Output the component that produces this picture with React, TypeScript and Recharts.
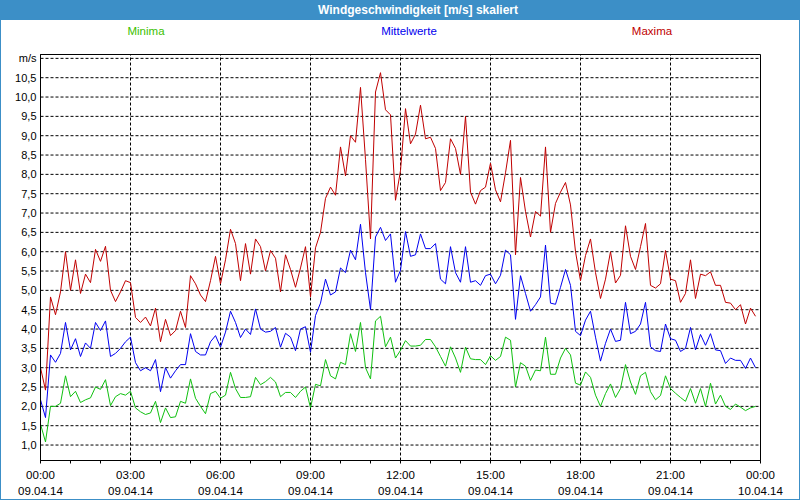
import { LineChart, Line, XAxis, YAxis, CartesianGrid, ReferenceLine, ReferenceArea, Legend } from 'recharts';

// wind speed [m/s], one value every 10 minutes, 09.04.14 00:00 .. 23:50
const maxima = [
  3.0, 2.42, 4.83, 4.37, 4.96, 6.0, 5.0, 5.79, 4.92, 5.42, 5.2, 6.06, 5.75, 6.14, 5.0, 4.71, 4.96, 5.25, 5.2,
  4.3, 4.17, 4.31, 4.08, 4.54, 3.67, 4.25, 3.83, 3.96, 4.46, 4.04, 5.38, 5.17, 4.88, 4.71, 5.25, 5.88, 5.17,
  5.79, 6.58, 6.21, 5.25, 6.21, 5.42, 6.33, 6.13, 5.5, 6.03, 5.83, 4.96, 5.92, 5.54, 5.08, 5.58, 6.13, 4.83,
  6.1, 6.5, 7.38, 7.67, 7.46, 8.71, 7.96, 9.0, 8.83, 10.25, 8.38, 6.33, 10.13, 10.63, 9.67, 9.54, 7.33, 8.1,
  9.7, 8.79, 9.04, 9.79, 8.92, 8.96, 8.67, 7.58, 7.79, 8.92, 8.67, 8.0, 9.5, 7.54, 7.23, 7.58, 7.67, 8.29,
  7.6, 7.29, 8.04, 8.88, 5.92, 7.92, 7.04, 6.38, 7.04, 6.92, 8.71, 6.5, 7.25, 7.54, 7.79, 7.21, 6.0, 5.25,
  5.9, 6.33, 5.46, 4.79, 5.29, 6.0, 5.19, 5.39, 6.67, 5.88, 5.54, 6.13, 6.73, 5.13, 5.06, 5.17, 6.03, 5.29,
  5.25, 4.69, 4.92, 5.79, 4.79, 5.42, 5.38, 5.48, 5.13, 5.13, 4.69, 4.67, 4.5, 4.63, 4.13, 4.54, 4.33,
];

const mittelwerte = [
  2.17, 1.71, 3.33, 3.14, 3.37, 4.17, 3.46, 3.75, 3.29, 3.64, 3.5, 4.17, 3.96, 4.21, 3.29, 3.37, 3.5, 3.67, 3.79,
  3.13, 2.92, 3.0, 2.92, 3.21, 2.38, 3.0, 2.73, 2.92, 3.08, 3.08, 3.88, 3.42, 3.33, 3.33, 3.67, 3.83, 3.53,
  3.92, 4.46, 4.17, 3.78, 4.0, 3.86, 4.52, 4.0, 3.92, 3.94, 4.04, 3.53, 3.89, 3.79, 3.44, 4.0, 4.06, 3.4,
  4.35, 4.67, 5.29, 4.88, 4.96, 5.58, 5.46, 6.04, 5.79, 6.71, 5.46, 4.5, 6.38, 6.63, 6.29, 6.46, 5.21, 5.52,
  6.52, 5.88, 5.92, 6.46, 6.08, 6.08, 6.21, 5.29, 5.17, 6.13, 5.46, 5.21, 6.13, 5.21, 5.25, 5.13, 5.38, 5.42,
  5.17, 5.39, 6.04, 5.92, 4.25, 5.38, 4.92, 4.46, 4.63, 4.83, 6.17, 4.67, 4.64, 5.08, 5.54, 5.13, 3.94, 3.83,
  4.23, 4.46, 3.79, 3.17, 3.63, 4.0, 3.68, 3.71, 4.69, 3.88, 3.94, 4.13, 4.69, 3.54, 3.44, 3.42, 4.13, 3.75,
  3.71, 3.42, 3.5, 4.04, 3.46, 3.86, 3.58, 3.88, 3.46, 3.44, 3.11, 3.25, 3.19, 3.19, 2.98, 3.25, 3.0,
];

const minima = [
  1.54, 1.08, 2.0, 2.0, 2.08, 2.79, 2.25, 2.39, 2.1, 2.17, 2.22, 2.5, 2.44, 2.69, 2.02, 2.25, 2.33, 2.29, 2.39,
  1.96, 1.86, 1.79, 1.83, 2.13, 1.58, 1.96, 1.71, 1.73, 2.13, 2.08, 2.71, 2.21, 2.0, 1.81, 2.33, 2.39, 2.21,
  2.29, 2.88, 2.46, 2.23, 2.23, 2.25, 2.75, 2.56, 2.64, 2.75, 2.63, 2.25, 2.36, 2.36, 2.23, 2.39, 2.5, 1.96,
  2.57, 2.53, 3.21, 2.79, 2.71, 3.14, 3.08, 3.88, 3.42, 4.17, 3.0, 2.71, 4.21, 4.33, 3.54, 3.79, 3.25, 3.45,
  3.7, 3.56, 3.56, 3.58, 3.73, 3.73, 3.54, 3.29, 3.04, 3.54, 3.25, 2.88, 3.53, 3.23, 3.21, 3.21, 3.08, 3.31,
  3.19, 3.29, 3.79, 3.71, 2.5, 3.13, 3.04, 2.67, 2.94, 2.92, 3.79, 2.83, 2.83, 3.25, 3.5, 3.33, 2.6, 2.55,
  2.89, 2.75, 2.29, 2.0, 2.33, 2.58, 2.23, 2.46, 3.08, 2.63, 2.31, 2.79, 2.88, 2.38, 2.17, 2.28, 2.79, 2.46,
  2.34, 2.23, 2.13, 2.46, 2.08, 2.46, 2.0, 2.6, 2.06, 2.29, 2.0, 1.92, 2.06, 1.98, 1.89, 1.96, 2.0,
];

const yTicks = [1, 1.5, 2, 2.5, 3, 3.5, 4, 4.5, 5, 5.5, 6, 6.5, 7, 7.5, 8, 8.5, 9, 9.5, 10, 10.5, 11];
// minutes since 00:00, a small tick every hour
const hourTicks = [0, 60, 120, 180, 240, 300, 360, 420, 480, 540, 600, 660, 720, 780, 840, 900, 960, 1020, 1080, 1140, 1200, 1260, 1320, 1380, 1440];
const gridMinutes = [180, 360, 540, 720, 900, 1080, 1260];
const labelTimes = ['00:00', '03:00', '06:00', '09:00', '12:00', '15:00', '18:00', '21:00', '00:00'];
const labelDates = ['09.04.14', '09.04.14', '09.04.14', '09.04.14', '09.04.14', '09.04.14', '09.04.14', '09.04.14', '10.04.14'];

const data = maxima.map((v, i) => ({ t: i * 10, max: v, mean: mittelwerte[i], min: minima[i] }));

const FONT = '"Liberation Sans", Arial, sans-serif';
const BLUE_FRAME = '#3c8fc7';

const TimeTick = ({ x, y, payload }: any) => {
  const v = payload.value;
  if (v % 180 !== 0) return null;
  const k = v / 180;
  return (
    <g fontFamily={FONT} fontSize={11.5} fill="#000">
      <text x={x} y={y + 15} textAnchor="middle">{labelTimes[k]}</text>
      <text x={x} y={y + 31} textAnchor="middle">{labelDates[k]}</text>
    </g>
  );
};

const fmtY = (v: number) => (v === 11 ? 'm/s' : v.toFixed(1).replace('.', ','));

const legendItems = [
  { name: 'Minima', color: '#3cbf00', left: 146 },
  { name: 'Mittelwerte', color: '#0000ee', left: 409 },
  { name: 'Maxima', color: '#c00000', left: 652 },
];

const TopLegend = () => (
  <div style={{ position: 'relative', width: 800, height: 14, fontFamily: FONT, fontSize: 11.5 }}>
    {legendItems.map(l => (
      <span key={l.name} style={{ position: 'absolute', left: l.left, transform: 'translateX(-50%)', color: l.color, whiteSpace: 'nowrap' }}>
        {l.name}
      </span>
    ))}
  </div>
);

export default function App() {
  return (
    <div style={{ position: 'relative', width: 800, height: 500, background: '#fff', boxSizing: 'border-box', overflow: 'hidden' }}>
      <style>{'body{margin:0}'}</style>
      <div style={{ position: 'absolute', left: 0, top: 0, width: 800, height: 20, background: BLUE_FRAME, color: '#fff', fontFamily: FONT, fontWeight: 'bold', fontSize: 12, lineHeight: '20px', textAlign: 'center', paddingLeft: 36, boxSizing: 'border-box' }}>
        Windgeschwindigkeit [m/s] skaliert
      </div>
      <div style={{ position: 'absolute', inset: 0, border: `1px solid ${BLUE_FRAME}`, pointerEvents: 'none' }} />
      <div style={{ position: 'absolute', left: 0, top: 0 }}>
        <LineChart width={800} height={500} data={data} margin={{ top: 40.5, right: 39.5, bottom: 0, left: 0 }}>
          <Legend verticalAlign="top" wrapperStyle={{ top: 25, left: 0, width: 800 }} content={() => <TopLegend />} />
          <CartesianGrid vertical={false} stroke="#000" strokeDasharray="3 2" />
          {gridMinutes.map(m => (
            <ReferenceLine key={m} x={m} stroke="#000" strokeDasharray="3 2" />
          ))}
          <XAxis
            dataKey="t"
            type="number"
            domain={[0, 1440]}
            ticks={hourTicks}
            interval={0}
            height={39.5}
            tickSize={3}
            tickMargin={0}
            axisLine={{ stroke: '#000' }}
            tickLine={{ stroke: '#000' }}
            tick={<TimeTick />}
            allowDataOverflow
          />
          <YAxis
            type="number"
            domain={[0.6, 11.1]}
            ticks={yTicks}
            interval={0}
            width={40.5}
            tickSize={2}
            tickMargin={2}
            tickLine={false}
            axisLine={{ stroke: '#000' }}
            tickFormatter={fmtY}
            tick={{ fill: '#000', fontSize: 11, fontFamily: FONT }}
            allowDataOverflow
          />
          <ReferenceArea x1={0} x2={1440} y1={0.6} y2={11.1} fill="none" stroke="#000" strokeOpacity={1} fillOpacity={0} />
          <Line type="linear" dataKey="max" stroke="#c00000" strokeWidth={1} dot={false} isAnimationActive={false} />
          <Line type="linear" dataKey="mean" stroke="#0000f0" strokeWidth={1} dot={false} isAnimationActive={false} />
          <Line type="linear" dataKey="min" stroke="#10c010" strokeWidth={1} dot={false} isAnimationActive={false} />
        </LineChart>
      </div>
    </div>
  );
}
